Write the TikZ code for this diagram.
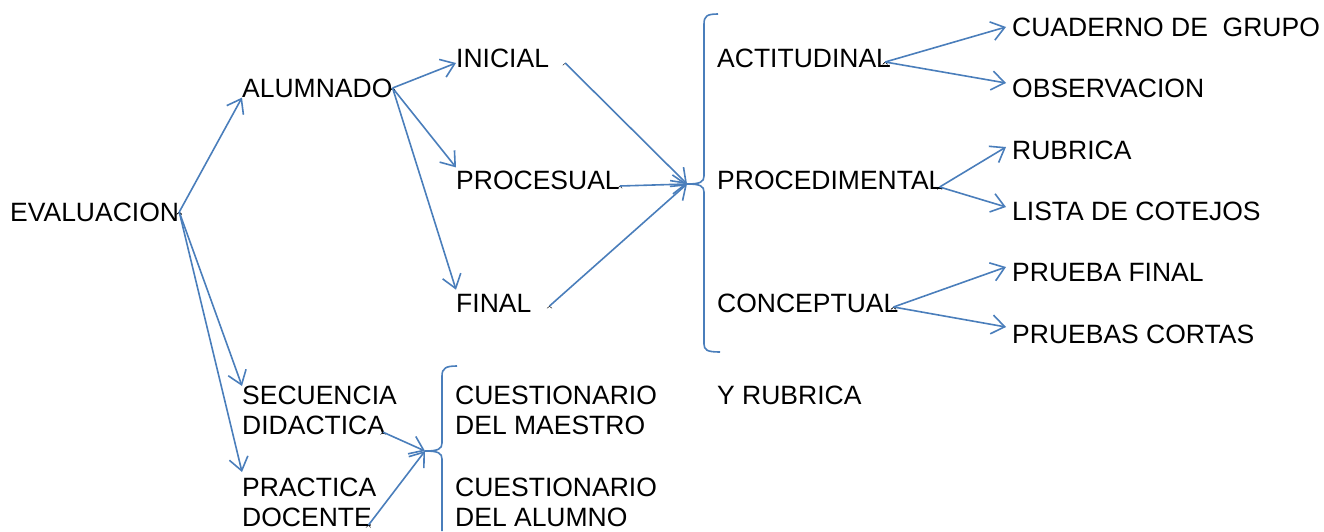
\documentclass[tikz,border=0pt]{standalone}
\usepackage{fontspec}
\setmainfont{Liberation Sans}
\usetikzlibrary{arrows.meta}
\definecolor{linkblue}{RGB}{74,126,187}

\begin{document}
\begin{tikzpicture}[x=1pt,y=-1pt]
  \useasboundingbox (0,0) rectangle (1324,531);

  \tikzstyle{term}=[anchor=west, inner sep=0pt, font=\fontsize{26.5}{30}\selectfont];
  \tikzstyle{leaf}=[term, inner xsep=6pt];
  \tikzstyle{twoline}=[term, anchor=north west, align=left];
  \tikzstyle{link}=[linkblue, line width=1.6pt, -{Straight Barb[length=13pt,width=19pt]}];
  \tikzstyle{brace}=[linkblue, line width=1.6pt];

  \node (evaluacion) at (10, 212) [term]{EVALUACION};
  \node (alumnado) at (242, 88) [term]{ALUMNADO};

  \node (inicial) at (456, 58) [term]{INICIAL};
  \node (procesual) at (456, 180) [term]{PROCESUAL};
  \node (final) at (456, 303) [term]{FINAL};

  \node (actitudinal) at (717, 58) [term]{ACTITUDINAL};
  \node (procedimental) at (717, 180) [term]{PROCEDIMENTAL};
  \node (conceptual) at (717, 303) [term]{CONCEPTUAL};

  \node (cuaderno) at (1006, 27) [leaf]{CUADERNO DE\ \ GRUPO};
  \node (observacion) at (1006, 88) [leaf]{OBSERVACION};
  \node (rubrica) at (1006, 150) [leaf]{RUBRICA};
  \node (lista) at (1006, 211) [leaf]{LISTA DE COTEJOS};
  \node (prueba) at (1006, 273) [leaf]{PRUEBA FINAL};
  \node (pruebas) at (1006, 334) [leaf]{PRUEBAS CORTAS};

  \node (secuencia) at (242, 386) [twoline]{SECUENCIA\\DIDACTICA};
  \node (practica) at (242, 478) [twoline]{PRACTICA\\DOCENTE};
  \node (maestro) at (455, 386) [twoline]{CUESTIONARIO\\DEL MAESTRO};
  \node (alumno) at (455, 478) [twoline]{CUESTIONARIO\\DEL ALUMNO};
  \node (yrubrica) at (717, 395) [term]{Y RUBRICA};

  % brace tips
  \coordinate (tip_1) at (687, 184);
  \coordinate (tip_2) at (425, 451);

  \draw[brace] (718, 14) .. controls (707, 14) and (704, 16) .. (704, 24) -- (704, 176)
    .. controls (704, 182) and (700, 184) .. (tip_1)
    .. controls (700, 184) and (704, 186) .. (704, 192) -- (704, 344)
    .. controls (704, 350) and (707, 352) .. (720, 352);
  \draw[brace] (457, 366) .. controls (446, 366) and (442, 368) .. (442, 376) -- (442, 443)
    .. controls (442, 449) and (438, 451) .. (tip_2)
    .. controls (438, 451) and (442, 453) .. (442, 459) -- (442, 531);

  \draw[->] (evaluacion.east) edge[link] (alumnado.south west);
  \draw[->] (evaluacion.east) edge[link] (secuencia.north west);
  \draw[->] (evaluacion.east) edge[link] ([yshift=6pt]practica.north west);

  \draw[->] (alumnado.east) edge[link] ([yshift=-5pt]inicial.west);
  \draw[->] (alumnado.east) edge[link] ([yshift=3pt]procesual.north west);
  \draw[->] (alumnado.east) edge[link] ([yshift=4pt]final.north west);

  \draw[->] ([xshift=16pt, yshift=-5pt]inicial.east) edge[link] (tip_1);
  \draw[->] ([yshift=-6pt]procesual.east) edge[link] (tip_1);
  \draw[->] ([xshift=18pt, yshift=-3pt]final.east) edge[link] (tip_1);

  \draw[->] ([xshift=-6pt, yshift=-4pt]actitudinal.east) edge[link] (cuaderno.west);
  \draw[->] ([xshift=-6pt, yshift=-4pt]actitudinal.east) edge[link] ([yshift=5pt]observacion.west);
  \draw[->] ([xshift=-4pt, yshift=-7pt]procedimental.east) edge[link] ([yshift=3pt]rubrica.west);
  \draw[->] ([xshift=-4pt, yshift=-7pt]procedimental.east) edge[link] ([yshift=4pt]lista.west);
  \draw[->] ([xshift=-5pt, yshift=-4pt]conceptual.east) edge[link] ([yshift=6pt]prueba.west);
  \draw[->] ([xshift=-5pt, yshift=-4pt]conceptual.east) edge[link] ([yshift=7pt]pruebas.west);

  \draw[->] ([xshift=-14pt, yshift=3pt]secuencia.south east) edge[link] (tip_2);
  \draw[->] ([xshift=-8pt, yshift=2pt]practica.south east) edge[link] (tip_2);
\end{tikzpicture}
\end{document}
